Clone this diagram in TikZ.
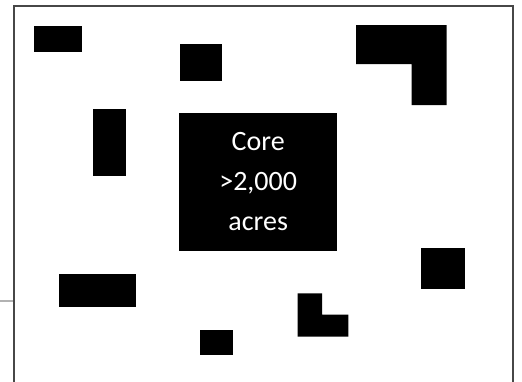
\documentclass[tikz,border=0pt]{standalone}
\usepackage{fontspec}
\setmainfont{Carlito}
\begin{document}
\begin{tikzpicture}[x=1pt,y=-1pt,
  block/.style={fill=black},
  frameline/.style={draw=black!72,line width=2pt},
  coretext/.style={fill=black,text=white,font=\fontsize{28}{40}\selectfont,align=center,inner sep=0pt}]
\useasboundingbox (0,0) rectangle (522,381);
\begin{scope}
\clip (0,0) rectangle (522,381);
% frame (bottom edge runs off the picture)
\draw[frameline] (13.7,400) -- (13.7,5.7) -- (513,5.7) -- (513,400);
% fragment of a line at the left
\draw[draw=black!30,line width=1.5pt] (0,301) -- (13,301);
\end{scope}
% blocks
\fill[block] (33.7,25.7) rectangle (82.3,52.3);
\fill[block] (180.3,44.3) rectangle (222.3,81.3);
\fill[block] (92.7,109) rectangle (126,176);
\fill[block] (356,25) -- (446.7,25) -- (446.7,105) -- (411.7,105) -- (411.7,64) -- (356,64) -- cycle;
\fill[block] (58.7,274.3) rectangle (136.3,307.3);
\fill[block] (200.3,330) rectangle (233.3,355);
\fill[block] (420.7,248.3) rectangle (465.3,289);
\fill[block] (297.7,293.3) -- (322,293.3) -- (322,314.7) -- (348.3,314.7) -- (348.3,336.7) -- (297.7,336.7) -- cycle;
% core
\node[coretext,minimum width=157.7pt,minimum height=137.4pt] (core) at (258.2,182) {Core\\>2,000\\acres};
\end{tikzpicture}
\end{document}
